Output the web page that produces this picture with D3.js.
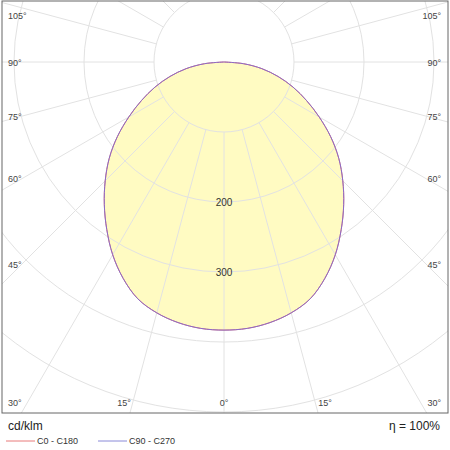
<!DOCTYPE html>
<html>
<head>
<meta charset="utf-8">
<script src="https://cdn.jsdelivr.net/npm/d3@7"></script>
<style>
body { margin: 0; background: #fff; }
text { font-family: "Liberation Sans", Arial, sans-serif; }
</style>
</head>
<body>
<svg id="chart" width="450" height="450"></svg>
<script>
// gamma angles (deg) and intensities (cd/klm), one half of the symmetric curve
const angles = [0, 5, 10, 15, 20, 25, 30, 35, 40, 45, 50, 55, 60, 65, 70, 75, 80, 85, 90];
const c0c180 = [383, 382, 378, 371, 360, 341, 318, 292, 266, 240, 214, 186, 157, 130, 105, 80, 55, 28, 0];
const c90c270 = [383, 382, 378, 371, 360, 341, 318, 292, 266, 240, 214, 186, 157, 130, 105, 80, 55, 28, 0];
const rings = [100, 200, 300, 400, 500, 600];
const ringLabels = [200, 300];
const rayAngles = [15, 30, 45, 60, 75, 90, 105, 120, 135, 150, 165];

const svg = d3.select("#chart");
const box = {left: 2, top: 1, right: 448, bottom: 413};
const cx = 224, cy = 62;

const r = d3.scaleLinear().domain([0, 100]).range([0, 70]);

svg.append("defs").append("clipPath").attr("id", "clip")
    .append("rect")
    .attr("x", box.left).attr("y", box.top)
    .attr("width", box.right - box.left).attr("height", box.bottom - box.top);

const plot = svg.append("g").attr("clip-path", "url(#clip)");

// point at gamma angle a (deg, 0 = straight down), side = -1 left, +1 right
const pt = (a, v, side) => {
    const t = a * Math.PI / 180;
    return [cx + side * Math.sin(t) * r(v), cy + Math.cos(t) * r(v)];
};

function curvePoints(vals) {
    const right = angles.map((a, i) => pt(a, vals[i], 1));
    const left = angles.map((a, i) => pt(a, vals[i], -1)).reverse();
    return left.concat(right.slice(1));
}

// filled area
plot.append("path")
    .attr("d", d3.line().curve(d3.curveCatmullRomClosed)(curvePoints(c0c180)))
    .attr("fill", "#fffbc2");

// grid rings
plot.selectAll(".ring")
    .data(rings)
    .join("circle")
    .attr("cx", cx).attr("cy", cy)
    .attr("r", d => r(d))
    .attr("fill", "none")
    .attr("stroke", "#e2e2e2")
    .attr("stroke-width", 1);

// radial lines, both sides plus the 0° line
const rays = [0].concat(rayAngles.flatMap(a => [a, -a]));
plot.selectAll(".ray")
    .data(rays)
    .join("line")
    .attr("x1", d => pt(Math.abs(d), 100, Math.sign(d) || 1)[0])
    .attr("y1", d => pt(Math.abs(d), 100, Math.sign(d) || 1)[1])
    .attr("x2", d => pt(Math.abs(d), 1000, Math.sign(d) || 1)[0])
    .attr("y2", d => pt(Math.abs(d), 1000, Math.sign(d) || 1)[1])
    .attr("stroke", "#e2e2e2")
    .attr("stroke-width", 1);

// curves
plot.append("path")
    .attr("d", d3.line().curve(d3.curveCatmullRomClosed)(curvePoints(c0c180)))
    .attr("fill", "none").attr("stroke", "#e87a7a").attr("stroke-width", 1);
plot.append("path")
    .attr("d", d3.line().curve(d3.curveCatmullRomClosed)(curvePoints(c90c270)))
    .attr("fill", "none").attr("stroke", "#8a6cc8").attr("stroke-width", 1);

// ring labels on the 0° line
plot.selectAll(".rlab")
    .data(ringLabels)
    .join("text")
    .attr("x", cx).attr("y", d => cy + r(d) + 4)
    .attr("text-anchor", "middle")
    .attr("font-size", 10).attr("fill", "#333")
    .text(d => d);

// angle labels where rays hit the box edges
const angleLabels = [
    {t: "105°", y: 15}, {t: "90°", y: 62}, {t: "75°", y: 116},
    {t: "60°", y: 178}, {t: "45°", y: 264}, {t: "30°", y: 402}
];
angleLabels.forEach(d => {
    svg.append("text").attr("x", 8).attr("y", d.y + 4)
        .attr("font-size", 9).attr("fill", "#444").text(d.t);
    svg.append("text").attr("x", 441).attr("y", d.y + 4).attr("text-anchor", "end")
        .attr("font-size", 9).attr("fill", "#444").text(d.t);
});
[{t: "15°", x: 124}, {t: "0°", x: 224}, {t: "15°", x: 325}].forEach(d => {
    svg.append("text").attr("x", d.x).attr("y", 406).attr("text-anchor", "middle")
        .attr("font-size", 9).attr("fill", "#444").text(d.t);
});

// frame
svg.append("rect")
    .attr("x", box.left).attr("y", box.top)
    .attr("width", box.right - box.left).attr("height", box.bottom - box.top)
    .attr("fill", "none").attr("stroke", "#666").attr("stroke-width", 1);

// footer
svg.append("text").attr("x", 8).attr("y", 430).attr("font-size", 12).attr("fill", "#222").text("cd/klm");
svg.append("text").attr("x", 440).attr("y", 430).attr("text-anchor", "end")
    .attr("font-size", 12).attr("fill", "#222").text("η = 100%");

const legend = [
    {name: "C0 - C180", color: "#e87a7a", x: 6},
    {name: "C90 - C270", color: "#8a8ad8", x: 98}
];
legend.forEach(d => {
    svg.append("line").attr("x1", d.x).attr("x2", d.x + 29).attr("y1", 441).attr("y2", 441)
        .attr("stroke", d.color).attr("stroke-width", 1);
    svg.append("text").attr("x", d.x + 31).attr("y", 444).attr("font-size", 9)
        .attr("fill", "#333").text(d.name);
});
</script>
</body>
</html>
